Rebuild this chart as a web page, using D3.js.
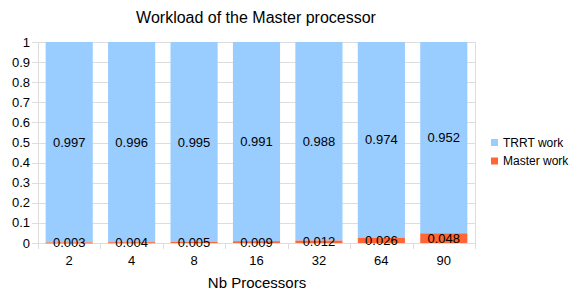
<!DOCTYPE html>
<html>
<head>
<meta charset="utf-8">
<script src="https://cdn.jsdelivr.net/npm/d3@7"></script>
<style>
  body { margin: 0; background: #fff; }
  text { font-family: "Liberation Sans", Arial, sans-serif; fill: #000; }
</style>
</head>
<body>
<div id="chart"></div>
<script>
// data
const categories = ["2", "4", "8", "16", "32", "64", "90"];
const masterWork = [0.003, 0.004, 0.005, 0.009, 0.012, 0.026, 0.048];
const trrtWork = [0.997, 0.996, 0.995, 0.991, 0.988, 0.974, 0.952];
const yTicks = [0, 0.1, 0.2, 0.3, 0.4, 0.5, 0.6, 0.7, 0.8, 0.9, 1];
const seriesNames = ["TRRT work", "Master work"];
const colors = ["#99ccff", "#ff6633"];

const width = 571, height = 291;
const margin = {top: 42, right: 96, bottom: 48, left: 38};
const innerWidth = width - margin.left - margin.right;
const innerHeight = height - margin.top - margin.bottom;

const svg = d3.select("#chart").append("svg")
    .attr("width", width)
    .attr("height", height);

const g = svg.append("g")
    .attr("transform", `translate(${margin.left},${margin.top})`);

const x = d3.scaleBand()
    .domain(categories)
    .range([0, innerWidth])
    .paddingInner(0.245)
    .paddingOuter(0.1225);

const y = d3.scaleLinear()
    .domain([0, 1])
    .range([innerHeight, 0]);

// grid lines
g.append("g").selectAll("line")
    .data(yTicks)
    .join("line")
    .attr("x1", -6)
    .attr("x2", innerWidth)
    .attr("y1", d => Math.round(y(d)) + 0.5)
    .attr("y2", d => Math.round(y(d)) + 0.5)
    .attr("stroke", "#dddddd");

// vertical frame lines
g.append("line")
    .attr("x1", 0.5).attr("x2", 0.5)
    .attr("y1", 0).attr("y2", innerHeight)
    .attr("stroke", "#dddddd");
g.append("line")
    .attr("x1", innerWidth + 0.5).attr("x2", innerWidth + 0.5)
    .attr("y1", 0).attr("y2", innerHeight + 6)
    .attr("stroke", "#dddddd");

// x tick marks at category boundaries
const step = x.step();
g.append("g").selectAll("line")
    .data(d3.range(categories.length + 1))
    .join("line")
    .attr("x1", i => Math.round(i * step) + 0.5)
    .attr("x2", i => Math.round(i * step) + 0.5)
    .attr("y1", innerHeight)
    .attr("y2", innerHeight + 6)
    .attr("stroke", "#dddddd");

// y labels
g.append("g").selectAll("text")
    .data(yTicks)
    .join("text")
    .attr("x", -8)
    .attr("y", d => y(d))
    .attr("dy", "0.35em")
    .attr("text-anchor", "end")
    .style("font-size", "13px")
    .text(d => d3.format("~g")(d));

// x labels
g.append("g").selectAll("text")
    .data(categories)
    .join("text")
    .attr("x", d => x(d) + x.bandwidth() / 2)
    .attr("y", innerHeight + 17)
    .attr("dy", "0.35em")
    .attr("text-anchor", "middle")
    .style("font-size", "13px")
    .text(d => d);

// stacked bars
const rows = categories.map((c, i) => ({cat: c, master: masterWork[i], trrt: trrtWork[i]}));

g.append("g").selectAll("rect")
    .data(rows)
    .join("rect")
    .attr("x", d => x(d.cat))
    .attr("width", x.bandwidth())
    .attr("y", d => y(d.master + d.trrt))
    .attr("height", d => y(d.master) - y(d.master + d.trrt))
    .attr("fill", colors[0]);

g.append("g").selectAll("rect")
    .data(rows)
    .join("rect")
    .attr("x", d => x(d.cat))
    .attr("width", x.bandwidth())
    .attr("y", d => y(d.master))
    .attr("height", d => Math.max(1, y(0) - y(d.master)))
    .attr("fill", colors[1]);

// value labels
g.append("g").selectAll("text")
    .data(rows)
    .join("text")
    .attr("x", d => x(d.cat) + x.bandwidth() / 2)
    .attr("y", d => y(d.master + d.trrt / 2))
    .attr("dy", "0.35em")
    .attr("text-anchor", "middle")
    .style("font-size", "13px")
    .text(d => d.trrt.toFixed(3));

g.append("g").selectAll("text")
    .data(rows)
    .join("text")
    .attr("x", d => x(d.cat) + x.bandwidth() / 2)
    .attr("y", d => y(d.master / 2))
    .attr("dy", "0.35em")
    .attr("text-anchor", "middle")
    .style("font-size", "13px")
    .text(d => d.master.toFixed(3));

// title
svg.append("text")
    .attr("x", 256)
    .attr("y", 17)
    .attr("dy", "0.35em")
    .attr("text-anchor", "middle")
    .style("font-size", "16px")
    .text("Workload of the Master processor");

// axis title
svg.append("text")
    .attr("x", 257)
    .attr("y", 283)
    .attr("dy", "0.35em")
    .attr("text-anchor", "middle")
    .style("font-size", "15px")
    .text("Nb Processors");

// legend
const legend = svg.append("g")
    .attr("transform", "translate(491,142.5)");
seriesNames.forEach((name, i) => {
    legend.append("rect")
        .attr("x", 0)
        .attr("y", i * 18.5 - 3.5)
        .attr("width", 7)
        .attr("height", 7)
        .attr("fill", colors[i]);
    legend.append("text")
        .attr("x", 12)
        .attr("y", i * 18.5)
        .attr("dy", "0.35em")
        .style("font-size", "12px")
        .text(name);
});
</script>
</body>
</html>
